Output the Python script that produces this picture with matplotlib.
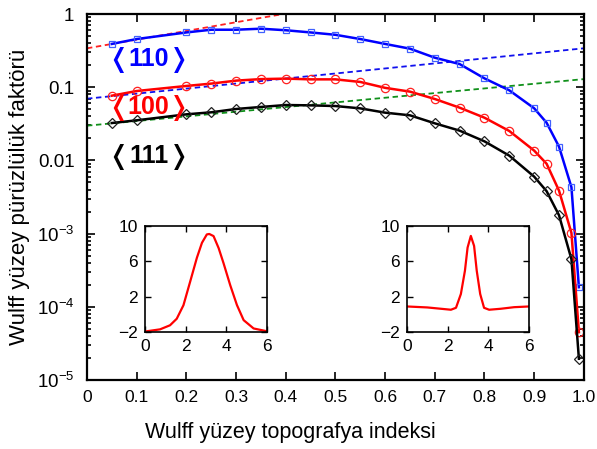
import matplotlib
matplotlib.use('Agg')
import matplotlib.pyplot as plt

plt.rcParams['font.family'] = ['Liberation Sans', 'DejaVu Sans']
plt.rcParams['mathtext.fontset'] = 'custom'
plt.rcParams['mathtext.rm'] = 'Liberation Sans'
plt.rcParams['mathtext.it'] = 'Liberation Sans'

# Main curves: roughness factor vs topography index
x_main = [0.05, 0.1, 0.2, 0.25, 0.3, 0.35, 0.4, 0.45, 0.5, 0.55, 0.6, 0.65,
          0.7, 0.75, 0.8, 0.85, 0.9, 0.925, 0.95, 0.975, 0.99]
y_110 = [0.39, 0.455, 0.56, 0.61, 0.61, 0.63, 0.60, 0.56, 0.52, 0.455, 0.39,
         0.336, 0.253, 0.207, 0.132, 0.0906, 0.0515, 0.0327, 0.0154, 0.0043, 1.85e-4]
y_100 = [0.0766, 0.0887, 0.104, 0.112, 0.123, 0.129, 0.131, 0.128, 0.128, 0.118,
         0.098, 0.087, 0.069, 0.0525, 0.0383, 0.0252, 0.0136, 0.009, 0.00386,
         0.00102, 4.5e-5]
y_111 = [0.0324, 0.0353, 0.0426, 0.0454, 0.0504, 0.0537, 0.0571, 0.0565, 0.0553,
         0.0514, 0.0449, 0.0413, 0.0321, 0.0255, 0.0182, 0.0116, 0.006, 0.0038,
         0.00178, 4.46e-4, 1.95e-5]

# Exponential fit lines (end points)
fit_red_x, fit_red_y = [0.0, 0.395], [0.34, 1.0]
fit_blue_x, fit_blue_y = [0.0, 1.0], [0.0697, 0.34]
fit_green_x, fit_green_y = [0.0, 1.0], [0.0298, 0.129]

# Insets
ins1_x = [0, 0.08, 0.74, 1.23, 1.56, 1.89, 2.22, 2.55, 2.80, 3.04, 3.16,
          3.37, 3.62, 3.86, 4.19, 4.52, 4.85, 5.34, 6.0]
ins1_y = [-1.93, -1.92, -1.7, -1.24, -0.5, 1.03, 3.7, 6.4, 8.1, 9.05, 9.1,
          8.86, 7.5, 5.8, 3.3, 1.05, -0.66, -1.6, -1.92]
ins2_x = [0, 1.0, 1.67, 2.16, 2.41, 2.65, 2.85, 2.98, 3.14, 3.30, 3.43,
          3.60, 3.79, 4.04, 4.61, 5.27, 6.0]
ins2_y = [0.89, 0.78, 0.63, 0.52, 0.74, 2.3, 4.94, 7.56, 8.88, 7.75, 4.94,
          2.3, 0.74, 0.52, 0.63, 0.81, 0.89]

# orientation labels
dirs = ['110', '100', '111']
dir_colors = ['#0000ff', '#ff0000', '#000000']
dir_y = [0.255, 0.057, 0.0122]

xticks = [0, 0.1, 0.2, 0.3, 0.4, 0.5, 0.6, 0.7, 0.8, 0.9, 1.0]
xticklabels = ['0', '0.1', '0.2', '0.3', '0.4', '0.5', '0.6', '0.7', '0.8', '0.9', '1.0']
yticks = [1e-5, 1e-4, 1e-3, 1e-2, 1e-1, 1]
yticklabels = ['$10^{-5}$', '$10^{-4}$', '$10^{-3}$', '0.01', '0.1', '1']

fig = plt.figure(figsize=(5.97, 4.49), dpi=100)
ax = fig.add_axes([0.1457, 0.1537, 0.8323, 0.8151])

dash = (0, (3, 2))
ax.plot(fit_red_x, fit_red_y, color='#ff2020', lw=1.3, linestyle=dash)
ax.plot(fit_blue_x, fit_blue_y, color='#1010ee', lw=1.3, linestyle=dash)
ax.plot(fit_green_x, fit_green_y, color='#10901a', lw=1.3, linestyle=dash)

ax.plot(x_main, y_110, color='#0000ff', lw=1.8, marker='s', ms=5,
        mfc='none', mec='#4060ff', mew=0.9)
ax.plot(x_main, y_100, color='#ff0000', lw=1.8, marker='o', ms=6,
        mfc='none', mec='#ff2020', mew=0.9)
ax.plot(x_main, y_111, color='#000000', lw=1.8, marker='D', ms=5,
        mfc='none', mec='#202020', mew=0.9)

ax.set_yscale('log')
ax.set_xlim(0, 1.0)
ax.set_ylim(1e-5, 1)
ax.set_xticks(xticks)
ax.set_xticklabels(xticklabels)
ax.set_yticks(yticks)
ax.set_yticklabels(yticklabels)
ax.tick_params(which='both', direction='in', top=True, right=True, width=1.2)
ax.tick_params(which='major', length=6)
ax.tick_params(which='minor', length=3)
ax.tick_params(axis='x', labelsize=12.5, pad=7)
ax.tick_params(axis='y', labelsize=13.5, pad=9)
for sp in ax.spines.values():
    sp.set_linewidth(1.6)

ax.set_xlabel('Wulff yüzey topografya indeksi', fontsize=15.5, labelpad=11)
ax.xaxis.set_label_coords(0.41, -0.115)
ax.set_ylabel('Wulff yüzey pürüzlülük faktörü', fontsize=16, labelpad=5)

# digits plus angle brackets on each side
for lab, col, yv in zip(dirs, dir_colors, dir_y):
    kw = dict(xy=(0.124, yv), textcoords='offset points', color=col,
              fontweight='bold', va='baseline')
    ax.annotate(lab, xytext=(0, -6.5), ha='center', fontsize=18, **kw)
    ax.annotate('\u276c', xytext=(-14, -7), ha='right', fontsize=19,
                family='DejaVu Sans', **kw)
    ax.annotate('\u276d', xytext=(14, -7), ha='left', fontsize=19,
                family='DejaVu Sans', **kw)

# Insets
for left, xs, ys in [(0.2429, ins1_x, ins1_y), (0.6817, ins2_x, ins2_y)]:
    ia = fig.add_axes([left, 0.2606, 0.2044, 0.236])
    ia.plot(xs, ys, color='#ff0000', lw=1.6)
    ia.set_xlim(0, 6)
    ia.set_ylim(-2, 10)
    ia.set_xticks([0, 2, 4, 6])
    ia.set_yticks([-2, 2, 6, 10])
    ia.tick_params(direction='in', top=True, right=True, labelsize=12.5,
                   length=4, width=1.0, pad=5)
    for sp in ia.spines.values():
        sp.set_linewidth(1.2)

fig.savefig('out.png', dpi=100)
